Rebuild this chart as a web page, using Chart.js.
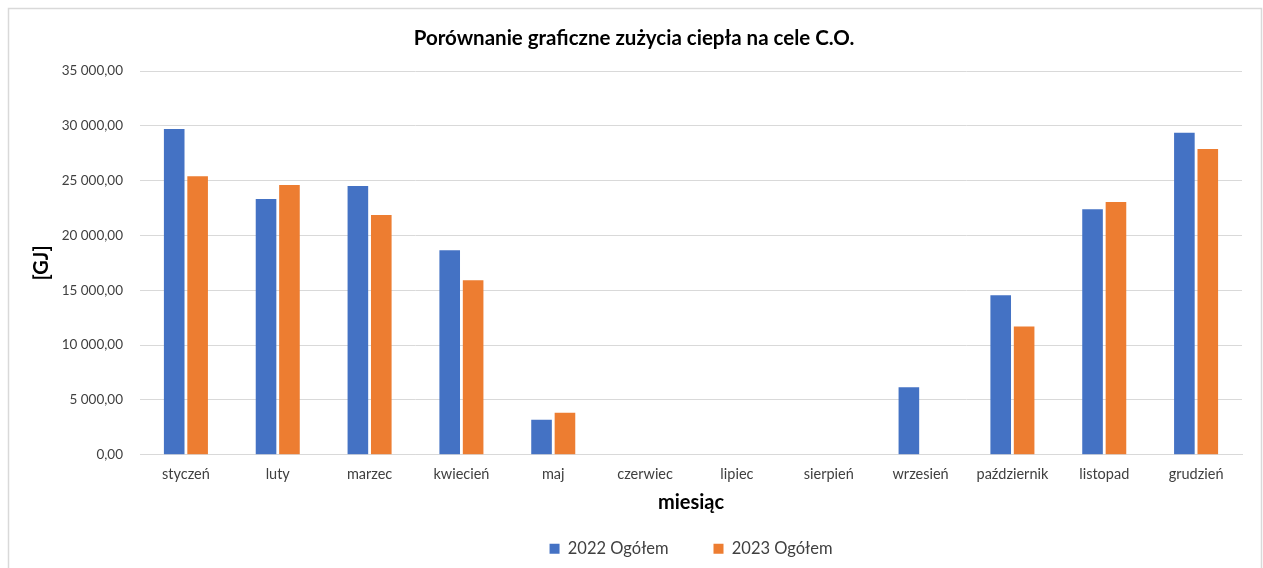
<!DOCTYPE html>
<html>
<head>
<meta charset="utf-8">
<script src="https://cdn.jsdelivr.net/npm/chart.js@4/dist/chart.umd.min.js"></script>
<style>
  html, body { margin: 0; padding: 0; background: #fff; }
  #wrap { position: relative; width: 1263px; height: 568px; }
</style>
</head>
<body>
<div id="wrap"><canvas id="c" width="1263" height="568"></canvas></div>
<script>
const months = ["styczeń","luty","marzec","kwiecień","maj","czerwiec","lipiec","sierpień","wrzesień","październik","listopad","grudzień"];
const values2022 = [29700, 23320, 24510, 18660, 3200, 0, 0, 0, 6160, 14540, 22400, 29360];
const values2023 = [25400, 24600, 21860, 15910, 3840, 0, 0, 0, 0, 11700, 23050, 27890];
const seriesNames = ["2022 Ogółem", "2023 Ogółem"];
const titleText = "Porównanie graficzne zużycia ciepła na cele C.O.";
const yTitle = "[GJ]";
const xTitle = "miesiąc";

const FONT = "Lato, 'Open Sans', sans-serif";

function fmt(v) {
  const s = Math.round(v).toString().replace(/\B(?=(\d{3})+(?!\d))/g, " ");
  return s + ",00";
}

const borderPlugin = {
  id: 'frame',
  beforeDraw(chart) {
    const ctx = chart.ctx;
    ctx.save();
    ctx.fillStyle = '#fff';
    ctx.fillRect(0, 0, chart.width, chart.height);
    ctx.strokeStyle = '#d9d9d9';
    ctx.lineWidth = 1.5;
    ctx.strokeRect(8.5, 8.5, 1253, 580);
    ctx.restore();
  }
};

new Chart(document.getElementById('c'), {
  type: 'bar',
  data: {
    labels: months,
    datasets: [
      { label: seriesNames[0], data: values2022, backgroundColor: '#4472C4', categoryPercentage: 0.51, barPercentage: 0.88 },
      { label: seriesNames[1], data: values2023, backgroundColor: '#ED7D31', categoryPercentage: 0.51, barPercentage: 0.88 }
    ]
  },
  plugins: [borderPlugin],
  options: {
    responsive: false,
    animation: false,
    layout: { padding: { left: 26, right: 21, top: 26, bottom: 1 } },
    plugins: {
      title: {
        display: true, text: titleText, color: '#000',
        font: { family: FONT, size: 20.5, weight: 'bold' },
        padding: { top: 0, bottom: 20.4 }
      },
      legend: {
        position: 'bottom',
        fullSize: false,
        labels: {
          color: '#404040', boxWidth: 10, boxHeight: 10, padding: 45,
          font: { family: FONT, size: 16.5 }
        }
      },
      tooltip: { enabled: false }
    },
    scales: {
      x: {
        grid: { display: false },
        border: { color: '#d9d9d9' },
        ticks: { color: '#404040', font: { family: FONT, size: 14.5 }, padding: 3, maxRotation: 0, autoSkip: false },
        title: { display: true, text: xTitle, color: '#000', font: { family: FONT, size: 20, weight: 'bold' }, padding: { top: 4.6, bottom: -19.25 } }
      },
      y: {
        min: 0, max: 35000,
        ticks: { stepSize: 5000, color: '#404040', font: { family: FONT, size: 13.5 }, padding: 17, callback: v => fmt(v) },
        grid: { color: '#d9d9d9', drawTicks: false },
        border: { display: false },
        title: { display: true, text: yTitle, color: '#000', font: { family: FONT, size: 20, weight: 'bold' }, padding: { top: 4, bottom: 4 } },
        afterFit(scale) { scale.width = 114; }
      }
    }
  }
});
</script>
</body>
</html>
